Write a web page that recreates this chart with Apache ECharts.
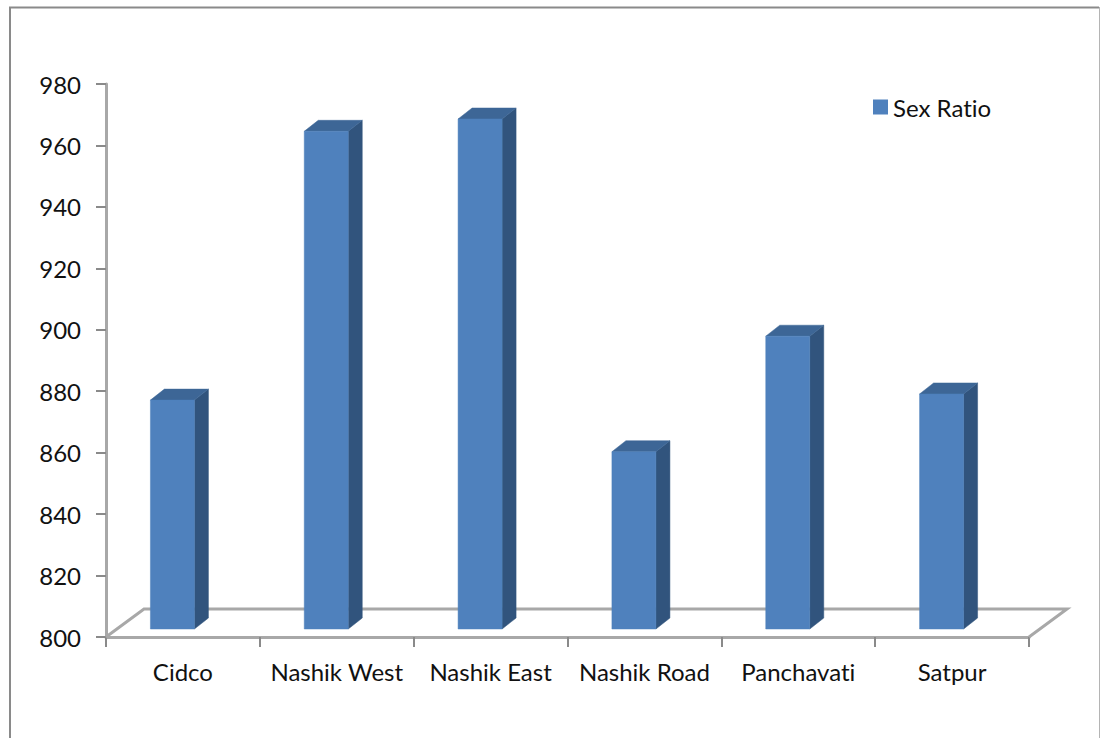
<!DOCTYPE html>
<html>
<head>
<meta charset="utf-8">
<style>html,body{margin:0;padding:0;background:#fff}#chart{width:1100px;height:738px}text{font-variant-ligatures:none}</style>
<script src="https://cdn.jsdelivr.net/npm/echarts@6/dist/echarts.min.js"></script>
</head>
<body>
<div id="chart"></div>
<script>
const categories = ['Cidco', 'Nashik West', 'Nashik East', 'Nashik Road', 'Panchavati', 'Satpur'];
const sexRatio = [874.5, 962, 966, 857.7, 895.3, 876.5];
const yTicks = { min: 800, max: 980, interval: 20 };

const FRONT = '#4f81bd', SIDE = '#31547d', TOP = '#3d6696', RULE = '#a8a8a8';
const FONT = 'Lato, "Open Sans", sans-serif';

// Pseudo-3D projection: how far the bar's depth and the floor recede on screen.
const BAR_DEPTH = { x: 14, y: -11 };
const FLOOR_DEPTH = { x: 38, y: -28 };
const BAR_LIFT = -8, BAR_SHIFT = -10.5, BAR_WIDTH = 44;

function renderBar(params, api) {
  const base = api.coord([api.value(0), yTicks.min]);
  const head = api.coord([api.value(0), api.value(1)]);
  const l = base[0] + BAR_SHIFT - BAR_WIDTH / 2, r = l + BAR_WIDTH;
  const b = base[1] + BAR_LIFT, t = head[1] + BAR_LIFT;
  const dx = BAR_DEPTH.x, dy = BAR_DEPTH.y;
  const face = (points, fill) => ({
    type: 'polygon', shape: { points }, style: { fill, stroke: fill, lineWidth: 0.5 }
  });
  return {
    type: 'group',
    children: [
      face([[r, t], [r + dx, t + dy], [r + dx, b + dy], [r, b]], SIDE),
      face([[l, t], [l + dx, t + dy], [r + dx, t + dy], [r, t]], TOP),
      face([[l, t], [r, t], [r, b], [l, b]], FRONT)
    ]
  };
}

// Floor of the 3D plot: back edge plus the two receding side edges.
function renderFloor(params) {
  const g = params.coordSys;
  const x0 = g.x, x1 = g.x + g.width, y = g.y + g.height;
  const bx = FLOOR_DEPTH.x, by = y + FLOOR_DEPTH.y;
  return {
    type: 'polyline',
    shape: { points: [[x0, y], [x0 + bx, by], [x1 + bx, by], [x1, y]] },
    style: { fill: null, stroke: RULE, lineWidth: 3 }
  };
}

const chart = echarts.init(document.getElementById('chart'), null, { renderer: 'svg' });
chart.setOption({
  animation: false,
  backgroundColor: '#ffffff',
  graphic: [
    {
      type: 'polyline', silent: true,
      shape: { points: [[10, 738], [10, 7.5], [1099, 7.5]] },
      style: { fill: null, stroke: '#8a8a8a', lineWidth: 2 }
    },
    {
      type: 'line', silent: true,
      shape: { x1: 1099.5, y1: 7, x2: 1099.5, y2: 738 },
      style: { stroke: '#b4b4b4', lineWidth: 1 }
    }
  ],
  grid: { left: 106, right: 71, top: 84, bottom: 101 },
  legend: {
    left: 868, top: 90,
    data: ['Sex Ratio'],
    icon: 'rect',
    itemWidth: 15, itemHeight: 15, itemGap: 6,
    textStyle: { fontFamily: FONT, fontSize: 24, color: '#111', padding: [0, 0, 2, 0] }
  },
  xAxis: {
    type: 'category',
    data: categories,
    axisLine: { lineStyle: { color: RULE, width: 3 } },
    axisTick: { show: true, interval: 0, length: 10, lineStyle: { color: '#8a8a8a', width: 2 } },
    axisLabel: { interval: 0, fontFamily: FONT, fontSize: 24, color: '#111', margin: 22 },
    splitLine: { show: false }
  },
  yAxis: {
    type: 'value',
    min: yTicks.min, max: yTicks.max, interval: yTicks.interval,
    axisLine: { show: true, lineStyle: { color: RULE, width: 3 } },
    axisTick: { show: true, length: 10, lineStyle: { color: '#8a8a8a', width: 2 } },
    axisLabel: { fontFamily: FONT, fontSize: 24, color: '#111', margin: 25, padding: [6, 0, 0, 0] },
    splitLine: { show: false }
  },
  series: [
    {
      type: 'custom', name: 'floor', silent: true, z: 1,
      renderItem: renderFloor, data: [[0, yTicks.min]], encode: { x: 0, y: 1 }
    },
    {
      type: 'custom', name: 'Sex Ratio', z: 2,
      renderItem: renderBar,
      itemStyle: { color: FRONT },
      data: sexRatio.map((v, i) => [i, v]),
      encode: { x: 0, y: 1 }
    }
  ]
});
</script>
</body>
</html>
